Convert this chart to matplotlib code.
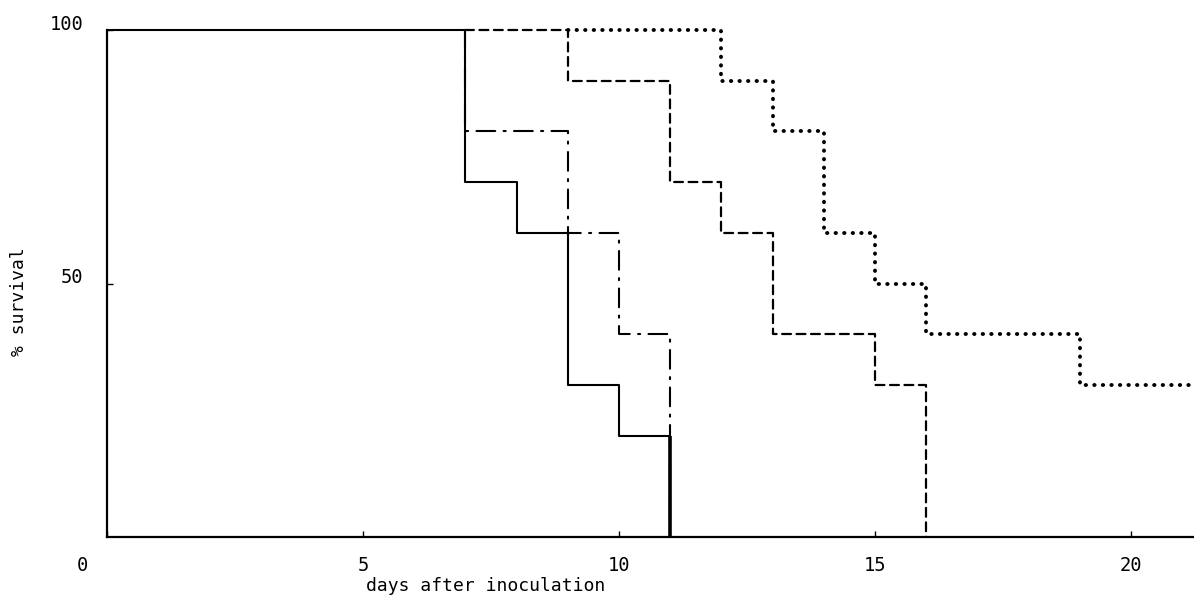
"""
Survival curves after inoculation (step plot, four groups).
"""

import matplotlib
matplotlib.use("Agg")
import matplotlib.pyplot as plt
import matplotlib.transforms as mtransforms

# --- Data: day of each death step and % survival after it ---
solid_days = [7, 8, 9, 10, 11]
solid_surv = [70, 60, 30, 20, 0]

dashdot_days = [7, 9, 10, 11]
dashdot_surv = [80, 60, 40, 0]

dashed_days = [9, 11, 12, 13, 15, 16]
dashed_surv = [90, 70, 60, 40, 30, 0]

dotted_days = [12, 13, 14, 15, 16, 19]
dotted_surv = [90, 80, 60, 50, 40, 30]

# day at which each curve leaves the shared 100% line
solid_from = 0
dashdot_from = 7
dashed_from = 7
dotted_from = 9

x_ticks = [0, 5, 10, 15, 20]
y_ticks = [50, 100]

X_MAX = 21.23

plt.rcParams["font.family"] = ["DejaVu Sans Mono"]

fig = plt.figure(figsize=(11.94, 5.99), dpi=100)
ax = fig.add_axes([0.0896, 0.1035, 0.9104, 0.8464])


def draw(days, surv, start, end, **style):
    xs = [start] + list(days) + ([end] if end is not None else [])
    ys = [100] + list(surv) + ([surv[-1]] if end is not None else [])
    ax.step(xs, ys, where="post", color="black", clip_on=False,
            solid_capstyle="butt", dash_capstyle="round", **style)


draw(solid_days, solid_surv, solid_from, None, linestyle="-", linewidth=1.5)
draw(dashdot_days, dashdot_surv, dashdot_from, None,
     linestyle=(0, (9, 4, 1, 4)), linewidth=1.5)
draw(dashed_days, dashed_surv, dashed_from, None,
     linestyle=(0, (4, 2.5)), linewidth=1.6)
draw(dotted_days, dotted_surv, dotted_from, X_MAX,
     linestyle=(0, (0.1, 2.1)), linewidth=2.8)

# the last drop of the solid group looks heavier where curves coincide
ax.vlines(solid_days[-1], 0, solid_surv[-2], color="black", linewidth=2.6)

ax.set_xlim(0, X_MAX)
ax.set_ylim(0, 100)

for side in ("top", "right"):
    ax.spines[side].set_visible(False)
for side in ("left", "bottom"):
    ax.spines[side].set_linewidth(1.6)
    ax.spines[side].set_capstyle("projecting")

ax.set_xticks(x_ticks)
ax.set_xticklabels([str(t) for t in x_ticks])
ax.set_yticks(y_ticks)
ax.set_yticklabels([str(t) for t in y_ticks])
ax.tick_params(axis="both", direction="in", length=4, width=1.0,
               labelsize=13.5, color="black")
ax.tick_params(axis="x", pad=14)
ax.tick_params(axis="y", pad=17)

# origin label sits left of the corner, y labels a little high
shift0 = mtransforms.ScaledTranslation(-25 / 100, 0, fig.dpi_scale_trans)
ax.get_xticklabels()[0].set_transform(ax.get_xticklabels()[0].get_transform() + shift0)
lift = mtransforms.ScaledTranslation(0, 8 / 100, fig.dpi_scale_trans)
for lab in ax.get_yticklabels():
    lab.set_transform(lab.get_transform() + lift)

ax.set_xlabel("days after inoculation", fontsize=13)
ax.xaxis.set_label_coords(0.348, -0.078)
ax.set_ylabel("% survival", fontsize=13)
ax.yaxis.set_label_coords(-0.073, 0.465)

fig.savefig("out.png", dpi=100, facecolor="white")
plt.close(fig)
